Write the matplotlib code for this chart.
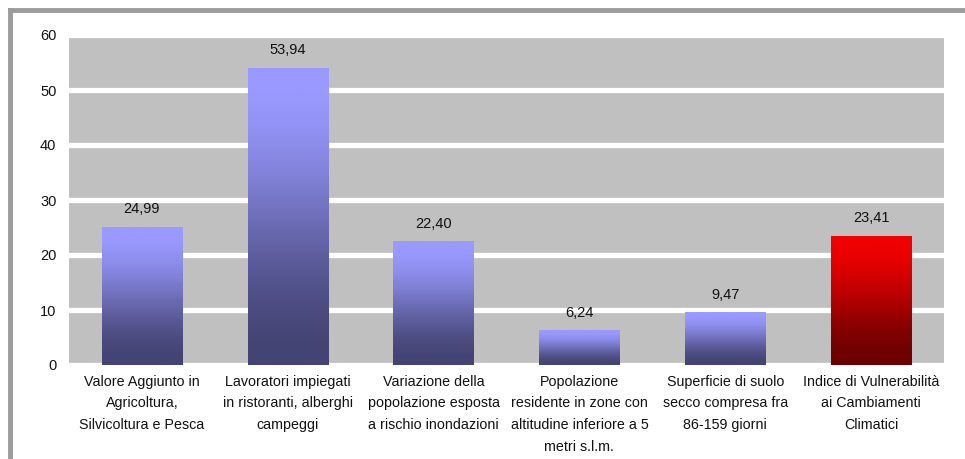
import numpy as np
import matplotlib
matplotlib.use("Agg")
import matplotlib.pyplot as plt
from matplotlib.colors import to_rgb
from matplotlib.lines import Line2D

plt.rcParams['font.family'] = ['Liberation Sans', 'DejaVu Sans']

categories = [
    "Valore Aggiunto in\nAgricoltura,\nSilvicoltura e Pesca",
    "Lavoratori impiegati\nin ristoranti, alberghi\ncampeggi",
    "Variazione della\npopolazione esposta\na rischio inondazioni",
    "Popolazione\nresidente in zone con\naltitudine inferiore a 5\nmetri s.l.m.",
    "Superficie di suolo\nsecco compresa fra\n86-159 giorni",
    "Indice di Vulnerabilità\nai Cambiamenti\nClimatici",
]
values = [24.99, 53.94, 22.40, 6.24, 9.47, 23.41]
value_labels = ["24,99", "53,94", "22,40", "6,24", "9,47", "23,41"]
yticks = [0, 10, 20, 30, 40, 50, 60]

blue_top, blue_bottom = "#9999ff", "#444474"
red_top, red_bottom = "#f00000", "#6e0000"

W, H = 965, 459
fig = plt.figure(figsize=(W / 100, H / 100), dpi=100)
ax = fig.add_axes([69 / W, 1 - 365 / H, (944 - 69) / W, (365 - 35) / H])
ax.set_facecolor("#c0c0c0")

for y in yticks:
    ax.axhline(y, color="white", lw=3.8, zorder=1)


def gradient(top, bottom, n=256):
    t = np.linspace(0, 1, n)
    s = np.clip((t - 0.08) / 0.85, 0, 1)
    s = s * s * (3 - 2 * s) * 0.6 + s * 0.4
    c0, c1 = np.array(to_rgb(top)), np.array(to_rgb(bottom))
    img = c0[None, :] * (1 - s[:, None]) + c1[None, :] * s[:, None]
    return img[:, None, :]


bw = 0.55
for i, v in enumerate(values):
    top, bottom = (red_top, red_bottom) if i == len(values) - 1 else (blue_top, blue_bottom)
    ax.imshow(gradient(top, bottom), extent=(i - bw / 2, i + bw / 2, 0, v),
              aspect="auto", origin="upper", zorder=2, interpolation="bilinear")
    ax.annotate(value_labels[i], (i, v), xytext=(0, 8), textcoords="offset points",
                ha="center", va="bottom", fontsize=10.5, color="#111111")

ax.set_xlim(-0.5, len(values) - 0.5)
ax.set_ylim(0, 60)
ax.set_xticks(range(len(values)))
ax.set_xticklabels(categories, fontsize=10.3, linespacing=1.7, color="#111111")
ax.set_yticks(yticks)
ax.set_yticklabels([str(t) for t in yticks], fontsize=10.5, color="#111111")
ax.tick_params(length=0)
ax.tick_params(axis="y", pad=9)
ax.tick_params(axis="x", pad=7)
for s in ax.spines.values():
    s.set_visible(False)

# outer frame (top and left edges)
fx, fy = 10 / W, 1 - 10 / H
fig.add_artist(Line2D([fx, 1.01], [fy, fy], transform=fig.transFigure, color="#9c9c9c", lw=3.5))
fig.add_artist(Line2D([fx, fx], [fy, -0.01], transform=fig.transFigure, color="#9c9c9c", lw=3.5))

fig.savefig("out.png", dpi=100)
